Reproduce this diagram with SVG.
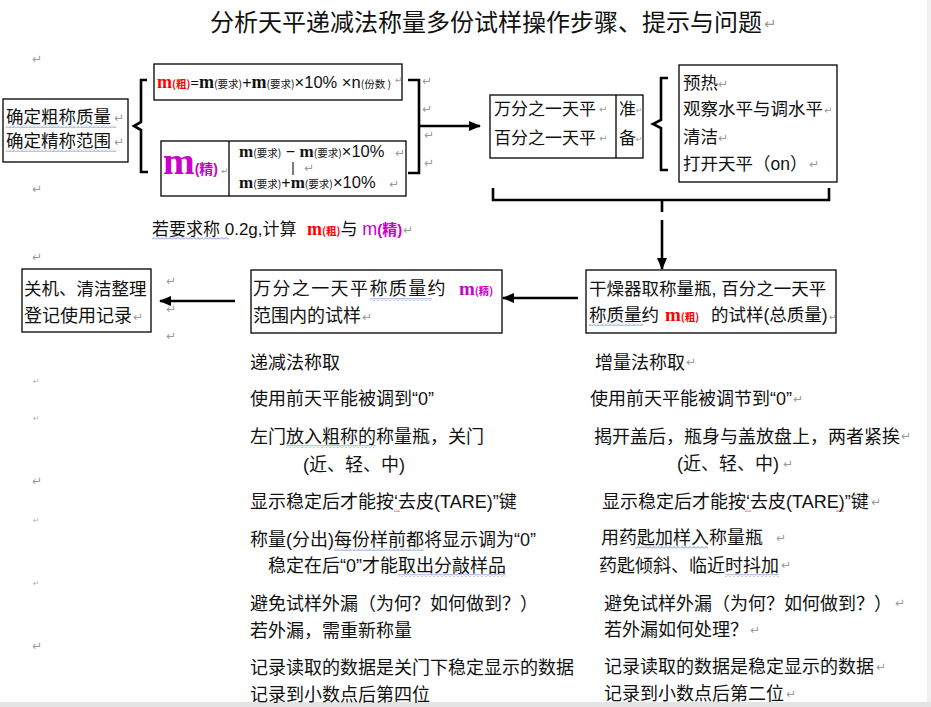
<svg xmlns="http://www.w3.org/2000/svg" width="931" height="707" viewBox="0 0 931 707">
<style>
  .t { font-family: "Liberation Sans", "Noto Sans CJK SC", sans-serif; font-size: 18px; fill: #111; }
  .b { font-size: 17.5px; }
  .mk { font-family: "DejaVu Sans", sans-serif; font-size: 12px; fill: #9a9a9a; }
  .mks { font-family: "DejaVu Sans", sans-serif; font-size: 8px; fill: #b0b0b0; }
  .box { fill: #fff; stroke: #000; stroke-width: 1.3; }
  .ln { fill: none; stroke: #000; stroke-width: 1.3; }
  .br { fill: none; stroke: #000; stroke-width: 2.6; stroke-linejoin: miter; }
  .conn { fill: none; stroke: #000; stroke-width: 2.6; }
  .ms { font-family: "Liberation Serif", "Noto Sans CJK SC", serif; font-weight: bold; }
  .sm { font-family: "Noto Sans CJK SC", sans-serif; font-size: 10.5px; }
  .red { fill: #ff0000; }
  .mag { fill: #cc00cc; }
</style>
<defs>
  <marker id="ah" viewBox="0 0 12 10" refX="11" refY="5" markerWidth="12" markerHeight="10" markerUnits="userSpaceOnUse" orient="auto">
    <path d="M0,0 L12,5 L0,10 Z" fill="#000"/>
  </marker>
  <pattern id="wb" width="4" height="3" patternUnits="userSpaceOnUse">
    <path d="M0,2.5 L2,0.5 L4,2.5" fill="none" stroke="#4a72d0" stroke-width="0.8"/>
  </pattern>
  <pattern id="wr" width="4" height="3" patternUnits="userSpaceOnUse">
    <path d="M0,2.5 L2,0.5 L4,2.5" fill="none" stroke="#e02020" stroke-width="0.8"/>
  </pattern>
</defs>

<rect x="0" y="0" width="931" height="707" fill="#fff"/>
<rect x="927" y="0" width="4" height="707" fill="#f1f1f1"/>
<rect x="0" y="702" width="931" height="5" fill="#e4e4e4"/>

<!-- title -->
<g id="title">
  <text class="t" x="210" y="31" style="font-size:24px">分析天平递减法称量多份试样操作步骤、提示与问题</text>
  <text class="mk" x="764" y="29" style="font-size:15px">↵</text>
</g>

<!-- connectors -->
<g id="connectors">
  <path class="br" d="M147,80 H141 V122 L134,126 L141,130 V172 H148"/>
  <path class="br" d="M408,80 H419 V173 H408"/>
  <path class="conn" d="M419,126 H480" marker-end="url(#ah)"/>
  <path class="br" d="M668,78 H661 V120 L653,124 L661,128 V170 H668"/>
  <path class="br" d="M493,188 V200 H829 V188"/>
  <path class="conn" d="M662,200 V212"/>
  <path class="conn" d="M662,220 V269" marker-end="url(#ah)"/>
  <path class="conn" d="M578,298 H503" marker-end="url(#ah)"/>
  <path class="conn" d="M235,301 H160" marker-end="url(#ah)"/>
</g>

<!-- node: determine masses -->
<g id="node-determine">
  <rect class="box" x="3" y="99" width="125" height="63"/>
  <text class="t b" x="6" y="123">确定粗称质量</text>
  <text class="t b" x="6" y="147">确定精称范围</text>
  <rect x="6" y="125" width="110" height="3" fill="url(#wb)"/>
  <rect x="6" y="149" width="110" height="3" fill="url(#wb)"/>
  <text class="mk" x="114" y="122">↵</text>
  <text class="mk" x="114" y="146">↵</text>
</g>

<!-- node: m(粗) formula -->
<g id="node-mcu">
  <rect class="box" x="154" y="64" width="248" height="36"/>
  <text class="t" x="157" y="88"><tspan class="ms red" font-size="18">m</tspan><tspan class="sm red" font-weight="bold">(粗)</tspan><tspan class="ms" font-size="15">=</tspan><tspan class="ms" font-size="18">m</tspan><tspan class="sm">(要求)</tspan><tspan font-size="16">+</tspan><tspan class="ms" font-size="18">m</tspan><tspan class="sm">(要求)</tspan><tspan font-size="16.5">×10%  ×n</tspan><tspan class="sm">(份数 )</tspan></text>
  <text class="mk" x="395" y="83" style="font-size:9px">↵</text>
</g>

<!-- node: m(精) range -->
<g id="node-mjing">
  <rect class="box" x="161" y="141" width="245" height="55"/>
  <line class="ln" x1="229" y1="141" x2="229" y2="196"/>
  <text class="t" x="163" y="174"><tspan class="ms mag" font-size="38">m</tspan><tspan class="mag" font-size="14" font-weight="bold">(精)</tspan></text>
  <text class="mk" x="221" y="174" style="font-size:9px">↵</text>
  <text class="t" x="239" y="157"><tspan class="ms" font-size="17">m</tspan><tspan class="sm">(要求)</tspan><tspan font-size="16"> − </tspan><tspan class="ms" font-size="17">m</tspan><tspan class="sm">(要求)</tspan><tspan font-size="16.5">×10%</tspan></text>
  <line x1="293" y1="162" x2="293" y2="175" stroke="#333" stroke-width="1.3"/>
  <text class="t" x="239" y="188"><tspan class="ms" font-size="17">m</tspan><tspan class="sm">(要求)</tspan><tspan font-size="16">+</tspan><tspan class="ms" font-size="17">m</tspan><tspan class="sm">(要求)</tspan><tspan font-size="16.5">×10%</tspan></text>
  <text class="mk" x="395" y="157">↵</text>
  <text class="mk" x="304" y="172">↵</text>
  <text class="mk" x="389" y="188">↵</text>
</g>

<!-- node: balances -->
<g id="node-balance">
  <rect class="box" x="490" y="95" width="153" height="63"/>
  <line class="ln" x1="616" y1="95" x2="616" y2="158"/>
  <text class="t" x="494" y="115" style="font-size:17px">万分之一天平</text>
  <text class="t" x="494" y="144" style="font-size:17px">百分之一天平</text>
  <text class="t" x="619" y="115" style="font-size:17px">准</text>
  <text class="t" x="619" y="144" style="font-size:17px">备</text>
  <text class="mk" x="599" y="113" style="font-size:10px">↵</text>
  <text class="mk" x="599" y="142" style="font-size:10px">↵</text>
  <text class="mk" x="636" y="113" style="font-size:8px">↵</text>
  <text class="mk" x="636" y="142" style="font-size:8px">↵</text>
</g>

<!-- node: preparation list -->
<g id="node-prepare">
  <rect class="box" x="679" y="65" width="158" height="117"/>
  <text class="t b" x="683" y="89">预热</text>
  <text class="t b" x="683" y="115">观察水平与调水平</text>
  <text class="t b" x="683" y="143">清洁</text>
  <text class="t b" x="683" y="170">打开天平（on）</text>
  <text class="mk" x="718" y="88">↵</text>
  <text class="mk" x="824" y="114" style="font-size:10px">↵</text>
  <text class="mk" x="718" y="142">↵</text>
  <text class="mk" x="809" y="168">↵</text>
</g>

<!-- stray paragraph marks -->
<g id="marks">
  <text class="mk" x="32" y="63">↵</text>
  <text class="mk" x="32" y="193">↵</text>
  <text class="mk" x="32" y="261">↵</text>
  <text class="mk" x="422" y="85">↵</text>
  <text class="mk" x="422" y="113">↵</text>
  <text class="mk" x="424" y="139">↵</text>
  <text class="mk" x="424" y="167">↵</text>
  <text class="mk" x="166" y="285">↵</text>
  <text class="mk" x="166" y="313">↵</text>
  <text class="mk" x="166" y="340">↵</text>
  <text class="mks" x="33" y="384">↵</text>
  <text class="mks" x="33" y="421">↵</text>
  <text class="mk" x="32" y="485">↵</text>
  <text class="mks" x="33" y="523">↵</text>
  <text class="mks" x="33" y="586">↵</text>
  <text class="mk" x="32" y="650">↵</text>
</g>

<!-- hint text -->
<g id="hint">
  <text class="t" x="152" y="235" style="font-size:17px">若要求称 0.2g,计算</text>
  <rect x="152" y="237" width="77" height="3" fill="url(#wb)"/>
  <text class="t" x="307" y="235"><tspan class="ms red" font-size="18">m</tspan><tspan class="sm red" font-weight="bold">(粗)</tspan><tspan font-size="17">与 </tspan><tspan class="mag" font-size="18">m</tspan><tspan class="mag" font-size="15" font-weight="bold">(精)</tspan></text>
  <text class="mk" x="403" y="234">↵</text>
</g>

<!-- node: coarse weighing -->
<g id="node-coarse">
  <rect class="box" x="586" y="270" width="250" height="63"/>
  <text class="t b" x="589" y="295">干燥器取称量瓶, 百分之一天平</text>
  <text class="t b" x="589" y="321">称质量约</text>
  <text class="t" x="665" y="321"><tspan class="ms red" font-size="19">m</tspan><tspan class="sm red" font-weight="bold">(粗)</tspan></text>
  <text class="t b" x="711" y="321">的试样(总质量)</text>
  <rect x="589" y="323" width="54" height="3" fill="url(#wb)"/>
  <text class="mk" x="829" y="320" style="font-size:9px">↵</text>
</g>

<!-- node: fine weighing -->
<g id="node-fine">
  <rect class="box" x="251" y="270" width="251" height="63"/>
  <text class="t" x="253" y="295" letter-spacing="1.4">万分之一天平称质量约</text>
  <text class="t" x="459" y="295"><tspan class="ms mag" font-size="19">m</tspan><tspan class="sm mag" font-weight="bold">(精)</tspan></text>
  <text class="t" x="253" y="322">范围内的试样</text>
  <rect x="370" y="298" width="62" height="3" fill="url(#wb)"/>
  <text class="mk" x="362" y="321">↵</text>
</g>

<!-- node: shutdown -->
<g id="node-shutdown">
  <rect class="box" x="22" y="269" width="129" height="63"/>
  <text class="t b" x="24" y="295">关机、清洁整理</text>
  <text class="t" x="24" y="322">登记使用记录</text>
  <text class="mk" x="133" y="321">↵</text>
</g>

<!-- left column: decrement method -->
<g id="col-decrement">
  <text class="t" x="250" y="369">递减法称取</text>
  <text class="t" x="250" y="405">使用前天平能被调到“0”</text>
  <text class="t" x="250" y="443">左门放入粗称的称量瓶，关门</text>
  <rect x="286" y="445" width="90" height="3" fill="url(#wb)"/>
  <text class="t" x="303" y="471">(近、轻、中)</text>
  <text class="t" x="250" y="508">显示稳定后才能按‘去皮(TARE)”键</text>
  <rect x="394" y="509" width="6" height="3" fill="url(#wr)"/>
  <text class="t" x="250" y="546">称量(分出)每份样前都将显示调为“0”</text>
  <rect x="334" y="548" width="90" height="3" fill="url(#wb)"/>
  <text class="t" x="268" y="572">稳定在后“0”才能取出分敲样品</text>
  <rect x="398" y="574" width="108" height="3" fill="url(#wb)"/>
  <text class="t" x="250" y="610">避免试样外漏（为何？如何做到？）</text>
  <text class="t" x="250" y="637">若外漏，需重新称量</text>
  <text class="t" x="250" y="674">记录读取的数据是关门下稳定显示的数据</text>
  <text class="t" x="250" y="701">记录到小数点后第四位</text>
</g>

<!-- right column: increment method -->
<g id="col-increment">
  <text class="t" x="595" y="369">增量法称取</text>
  <text class="mk" x="686" y="366">↵</text>
  <text class="t" x="590" y="405">使用前天平能被调节到“0”</text>
  <text class="mk" x="793" y="403">↵</text>
  <text class="t" x="594" y="443">揭开盖后，瓶身与盖放盘上，两者紧挨</text>
  <text class="mk" x="901" y="440">↵</text>
  <text class="t" x="677" y="470">(近、轻、中)</text>
  <text class="mk" x="783" y="468">↵</text>
  <text class="t" x="602" y="508">显示稳定后才能按‘去皮(TARE)”键</text>
  <rect x="745" y="509" width="6" height="3" fill="url(#wr)"/>
  <rect x="836" y="509" width="8" height="3" fill="url(#wr)"/>
  <text class="mk" x="871" y="506">↵</text>
  <text class="t" x="601" y="544">用药匙加样入称量瓶</text>
  <rect x="635" y="546" width="73" height="3" fill="url(#wb)"/>
  <text class="mk" x="776" y="542">↵</text>
  <text class="t" x="599" y="572">药匙倾斜、临近时抖加</text>
  <rect x="725" y="574" width="54" height="3" fill="url(#wb)"/>
  <text class="mk" x="781" y="569">↵</text>
  <text class="t" x="604" y="610">避免试样外漏（为何？如何做到？）</text>
  <text class="mk" x="895" y="607">↵</text>
  <text class="t" x="604" y="636">若外漏如何处理？</text>
  <text class="mk" x="750" y="634">↵</text>
  <text class="t" x="604" y="673">记录读取的数据是稳定显示的数据</text>
  <text class="mk" x="876" y="671">↵</text>
  <text class="t" x="604" y="700">记录到小数点后第二位</text>
  <text class="mk" x="786" y="698">↵</text>
</g>
</svg>
